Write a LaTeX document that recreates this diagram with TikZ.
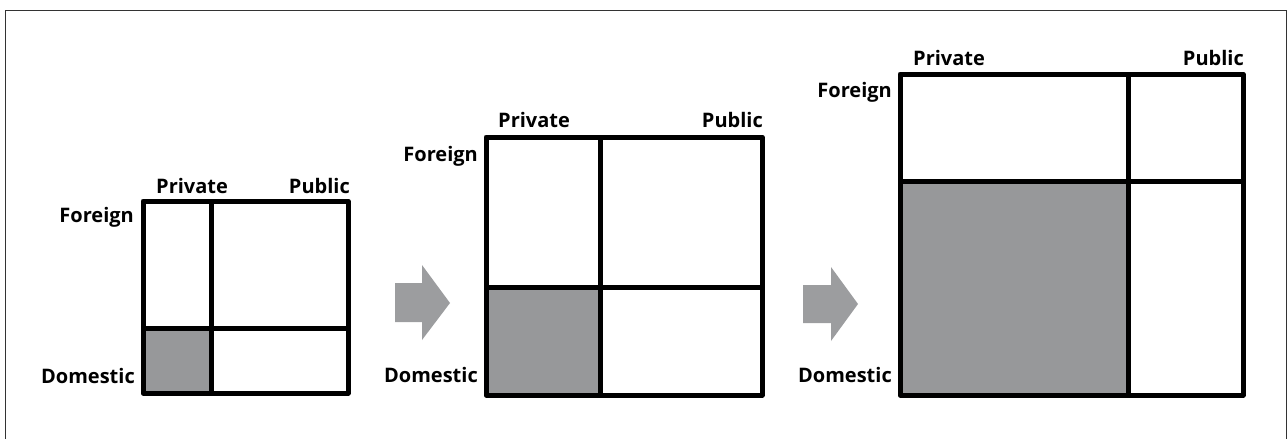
\documentclass[tikz,border=0pt]{standalone}
\usepackage{fontspec}
\setmainfont{Open Sans}
\begin{document}
\begin{tikzpicture}[x=1pt,y=-1pt,
  lbl/.style={inner sep=0pt,font=\bfseries\fontsize{20}{20}\selectfont},
  grid/.style={line width=5pt,line join=round,black}]
\definecolor{cellfill}{RGB}{151,152,154}
\definecolor{arrowgray}{RGB}{156,157,159}
\useasboundingbox (0,0) rectangle (1288,439);
% frame
\draw[line width=1.5pt,black!80] (5.5,439) -- (5.5,10.5) -- (1286.5,10.5) -- (1286.5,439);

% ---- panel 1
\fill[cellfill] (143,328) rectangle (211,393);
\draw[grid] (143,201) rectangle (348,393);
\draw[grid] (211,201) -- (211,393);
\draw[grid] (143,328) -- (348,328);
\node[lbl,anchor=base west] (pr1) at (156,193) {Private};
\node[lbl,anchor=base east] (pu1) at (350,193) {Public};
\node[lbl,anchor=base east] (fo1) at (134,222) {Foreign};
\node[lbl,anchor=base east] (do1) at (135,383) {Domestic};

% arrow 1
\fill[arrowgray] (395,283) -- (422,283) -- (422,265) -- (450,303) -- (422,340) -- (422,322) -- (395,322) -- cycle;

% ---- panel 2
\fill[cellfill] (486,287) rectangle (600,395);
\draw[grid] (486,137) rectangle (762,395);
\draw[grid] (600,137) -- (600,395);
\draw[grid] (486,287) -- (762,287);
\node[lbl,anchor=base west] (pr2) at (498,127) {Private};
\node[lbl,anchor=base east] (pu2) at (763,127) {Public};
\node[lbl,anchor=base east] (fo2) at (478,161) {Foreign};
\node[lbl,anchor=base east] (do2) at (478,382) {Domestic};

% arrow 2
\fill[arrowgray] (803,285) -- (831,285) -- (831,267) -- (858,304) -- (831,341) -- (831,323) -- (803,323) -- cycle;

% ---- panel 3
\fill[cellfill] (900,181) rectangle (1128,395);
\draw[grid] (900,74) rectangle (1243,395);
\draw[grid] (1128,74) -- (1128,395);
\draw[grid] (900,181) -- (1243,181);
\node[lbl,anchor=base west] (pr3) at (913,65) {Private};
\node[lbl,anchor=base east] (pu3) at (1244,65) {Public};
\node[lbl,anchor=base east] (fo3) at (892,97) {Foreign};
\node[lbl,anchor=base east] (do3) at (892,382) {Domestic};
\end{tikzpicture}
\end{document}
